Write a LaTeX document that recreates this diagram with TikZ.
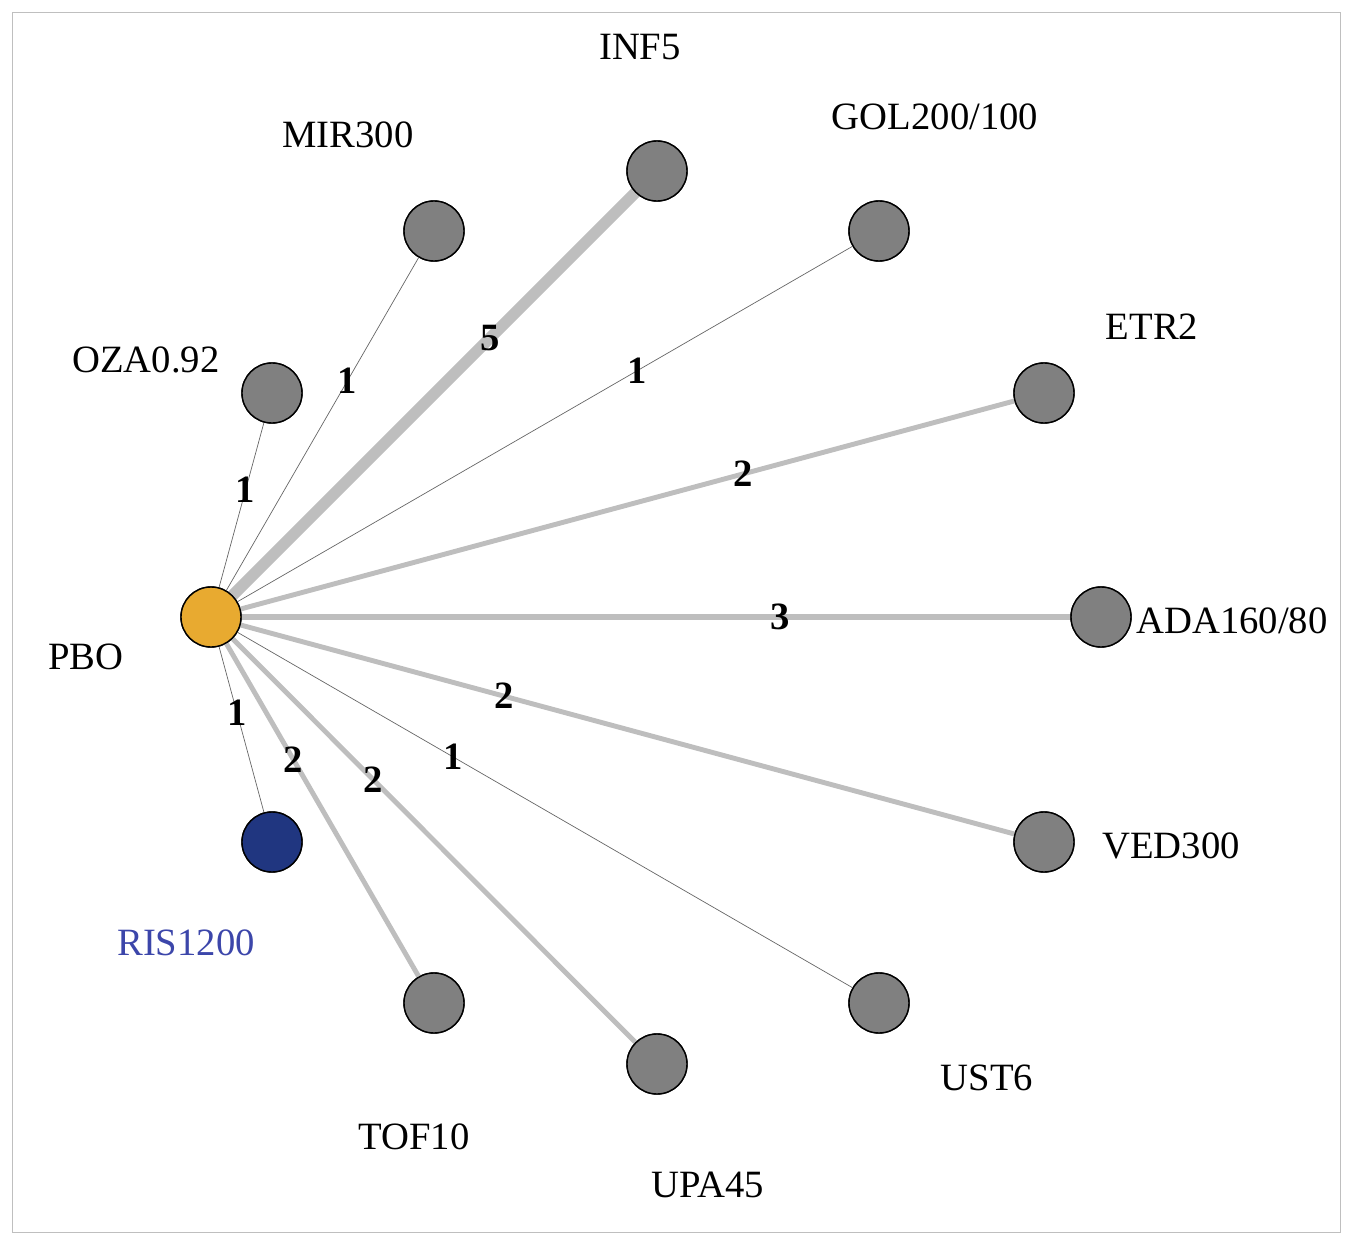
\documentclass[tikz,border=0pt]{standalone}
\usepackage{fontspec}
\setmainfont{Liberation Serif}
\definecolor{nodegray}{RGB}{128,128,128}
\definecolor{edgegray}{RGB}{190,190,190}
\definecolor{pboorange}{RGB}{232,170,48}
\definecolor{risblue}{RGB}{32,54,128}
\definecolor{labelblue}{RGB}{60,70,170}
\begin{document}
\begin{tikzpicture}[x=0.02cm,y=-0.02cm]
	\tikzstyle{place}=[circle, draw=black, thick, fill=nodegray, minimum size=1.2cm, inner sep=0pt]
	\tikzstyle{druglabel}=[font=\fontsize{22}{25}\selectfont]
	\tikzstyle{num}=[font=\fontsize{22}{24}\selectfont\bfseries, inner sep=1pt]
	\useasboundingbox (0,0) rectangle (1350,1247);
	\draw[black!25] (12,12) rectangle (1340,1232);
	%---------------------%
	% Centre
	\node at (211,617) [place, fill=pboorange] (pbo) {};
	% Ring
	\foreach \n/\x/\y in {oza/272/393, mir/434/231, inf/657/171, gol/879/231, etr/1044/393,
	                     ada/1101/617, ved/1044/842, ust/879/1003, upa/657/1064, tof/434/1003}
		\node at (\x,\y) [place] (\n) {};
	\node at (272,842) [place, fill=risblue] (ris) {};
	%---------------------%
	% Edges
	\foreach \n/\w/\k/\p in {oza/0.4pt/1/0.59, mir/0.4pt/1/0.63, gol/0.4pt/1/0.65, ust/0.4pt/1/0.35, ris/0.4pt/1/0.4}
		\draw[black!60, line width=\w] (pbo) -- node[pos=\p, num, black] {\k} (\n);
	\foreach \n/\w/\k/\p in {etr/2.8pt/2/0.65, ada/3.6pt/3/0.65, ved/2.8pt/2/0.34,
	                        upa/2.8pt/2/0.35, tof/2.8pt/2/0.35, inf/6.5pt/5/0.64}
		\draw[edgegray, line width=\w] (pbo) -- node[pos=\p, num, black] {\k} (\n);
	% redraw nodes on top
	\node at (211,617) [place, fill=pboorange] {};
	\foreach \n in {oza,mir,inf,gol,etr,ada,ved,ust,upa,tof}
		\node at (\n) [place] {};
	\node at (ris) [place, fill=risblue] {};
	%---------------------%
	% Labels
	\foreach \t/\x/\y [count=\i] in {INF5/640/47, MIR300/348/135, {GOL200/100}/935/117, ETR2/1152/327,
	                     OZA0.92/146/360, {ADA160/80}/1232/621, PBO/86/657, VED300/1171/846,
	                     UST6/987/1078, UPA45/708/1185, TOF10/414/1137}
		\node at (\x,\y) [druglabel] (lab_\i) {\t};
	\node at (186,943) [druglabel, text=labelblue] (lab_ris) {RIS1200};
\end{tikzpicture}
\end{document}
